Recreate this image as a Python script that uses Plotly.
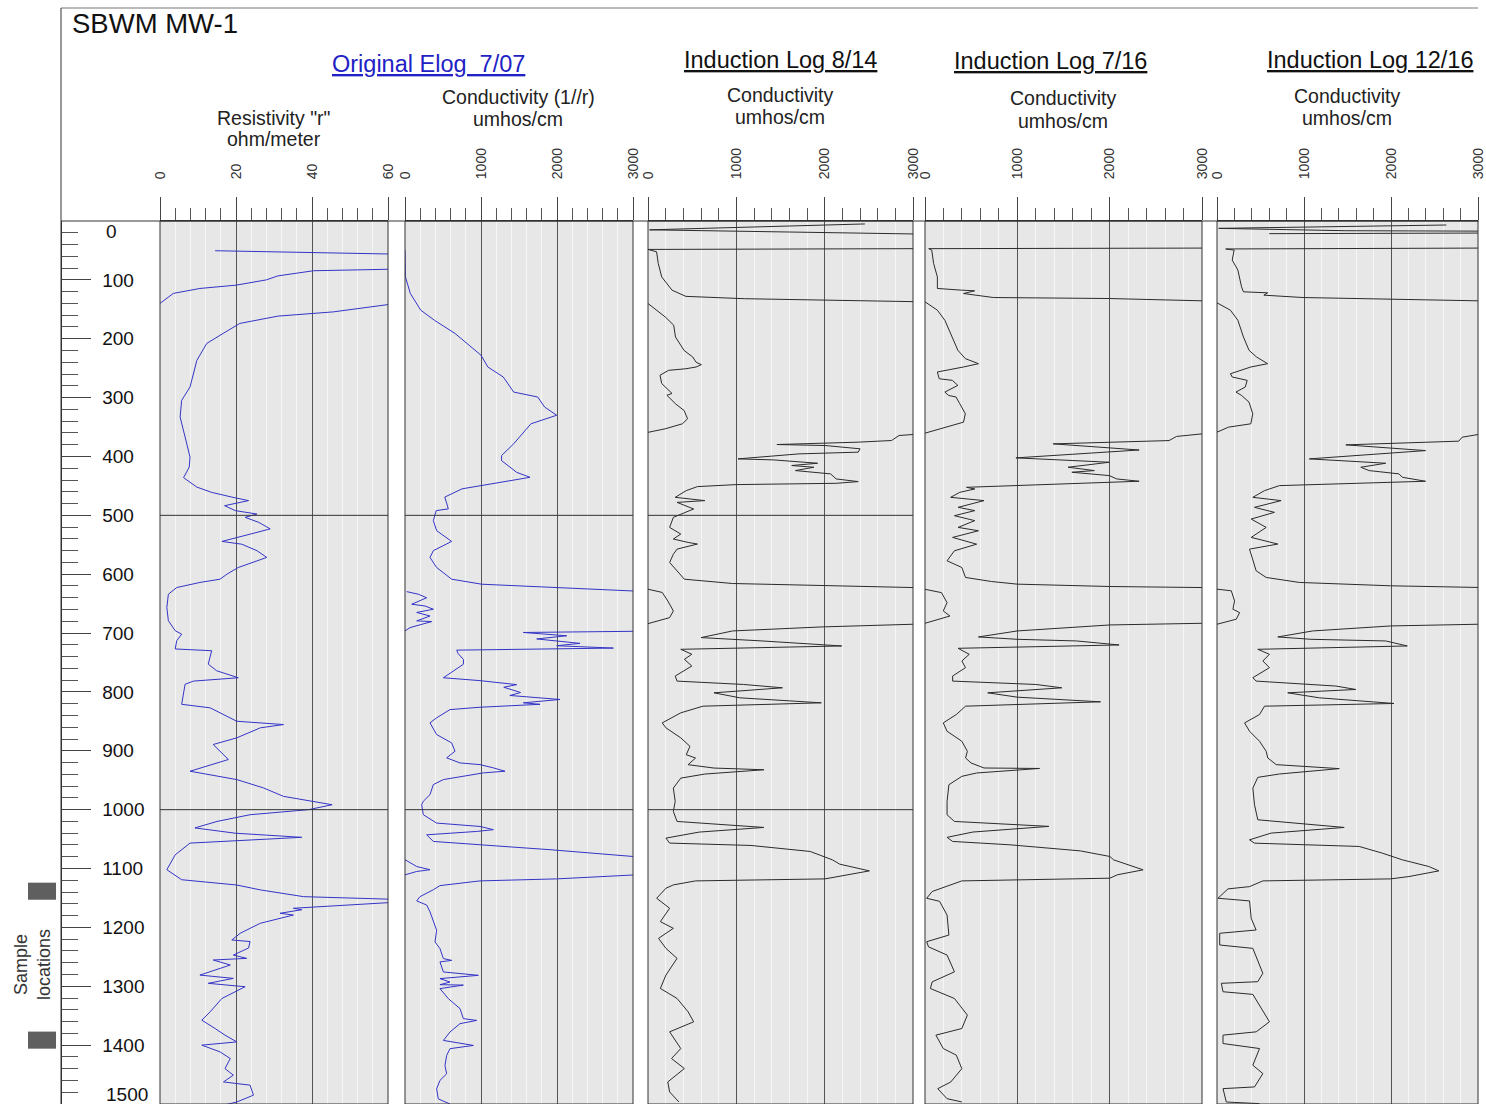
import plotly.graph_objects as go

W, H = 1486, 1104

# ---------------------------------------------------------------------------
# Log curves, traced top to bottom.  Depth in feet, None = trace left the scale
# ---------------------------------------------------------------------------

# Original E-log 7/07: resistivity (ohm-m)
res_depth = [50.5, 56, None,
             82, 84.5, 93.3, 100, 109, 114.6, 123, 140, None,
             142, 154.4, 161.6, 174, 191, 208, 236.7, 282, 304.6, 333,
             367, 401, 418, 436, 452, 461, 469, 475, 483.6, 492,
             497.8, 503.4, 512, 523, 532, 537.5, 544.3, 549, 560, 571.5,
             588.6, 600, 608.5, 614, 622.7, 634, 656.6, 679, 696, 701.8,
             713, 727, 730, 752.8, 764, 775.9, 781.6, 787, 821, 827,
             841, 849.8, 855.4, 861, 878, 889.3, 914.8, 934.7, 948.9, 963,
             977.4, 991.6, 1000, 1008.6, 1020, 1031, 1040, 1047, 1056.8, 1076.7,
             1102, 1119, 1128, 1136.3, 1147.8, 1152, None,
             1158, 1167.5, 1170, 1176, 1179, 1193, 1201.6, 1210, 1221.4, 1224,
             1235, 1247, 1252.6, 1255.4, 1263.9, 1281, 1286.6, 1295, 1300.8, 1312,
             1320.7, 1343.4, 1357.6, 1371.8, 1383, 1394.5, 1400, 1411.5, 1422.8, 1439.9,
             1451, 1462.5, 1468, 1485, 1496.6, 1502]
res_ohm = [14.5, 60, None,
           60, 40.4, 31, 28, 20, 10.5, 3.5, 0, None,
           60, 45.6, 31, 21, 16.6, 12.3, 9.7, 7.9, 5.7, 5.3,
           6.6, 7.9, 7.7, 6.2, 9.7, 13.6, 18.9, 23.3, 17, 19.8,
           25.5, 22.4, 26, 29, 23.7, 20.6, 16.3, 21.5, 25.5, 28.1,
           20.6, 17.6, 15.8, 10.5, 4.4, 2.2, 1.8, 2.2, 4, 5.7,
           4.4, 4, 13.6, 12.7, 14.9, 20.6, 8.8, 6.6, 5.7, 13.2,
           17.6, 20.2, 32.5, 26.4, 20.2, 14, 18, 7.9, 20.2, 27.2,
           32.5, 45.3, 39.1, 23.7, 15, 9.2, 19.8, 37.3, 7.9, 4,
           1.8, 5.7, 20.2, 26.4, 37.8, 60, None,
           60, 35.1, 37.3, 31.6, 35.1, 26.4, 23.7, 21.1, 18.9, 23.7,
           23.3, 19.3, 22.8, 14, 18.5, 10.5, 19.3, 12.7, 22.4, 18.9,
           16.3, 13.2, 11, 14.5, 17.1, 20.2, 11, 15.8, 18.5, 17.1,
           19.3, 16.7, 23.7, 24.6, 20.2, 16.7]

# Original E-log 7/07: conductivity 1/r (umhos/cm)
elog_depth = [49.4, 94.8, 123, 151.5, 168.6, 191, 228, 248, 265, 290.6,
              299, 316, 330, 336, 344.5, 378.5, 398.4, 407, 427, 435.4,
              449.5, 455, 469, 483, 489, 492, 509, 526, 544.3, 560,
              571.5, 588.6, 608.5, 617, 622.7, 628.5, None,
              629.6, 634, 640, 651, 654, 659.5, 665, 671, 679.3, 680.5, 690.7, 696.4, None,
              697, 699, 704.6, 710, 717.5, 721.5, 725.5, 729, 735, 745,
              753, 775.9, 780.8, 787.6, 792, 796, 801, 806, 812.8, 818.5,
              821, 826, 830, 844, 852.5, 872.4, 886.6, 900.7, 912, 920.6,
              923.5, 929, 934.7, 937.5, 948.9, 957.4, 974.4, 985.7, 991.5, 1008.6,
              1022.8, 1028.5, 1034, 1037, 1042.7, 1054, 1059.7, 1068, 1079.5, None,
              1085, 1096.6, 1102, 1105, 1110.7, None,
              1111, 1117.6, 1121, 1129, 1136, 1147.8, 1155, 1162, 1173.6, 1190.6,
              1204.8, 1224.7, 1236, 1253, 1256, 1258.6, 1275.7, 1281.4, 1287, 1292.8,
              1297.3, 1298, 1304, 1321, 1338, 1355, 1358, 1363.5, 1377.7, 1392,
              1400.5, 1406, 1417.5, 1434.5, 1448.7, 1460, 1474.3, 1491.3, 1500]
elog_cond = [0, 5, 70, 207, 387, 658, 1000, 1090, 1293, 1430,
             1746, 1837, 1996, 1861, 1657, 1430, 1271, 1270, 1470, 1645,
             1021, 750, 524, 560, 570, 410, 373, 416, 614, 373,
             329, 416, 614, 1009, 1996, 3000, None,
             22, 175, 285, 88, 263, 373, 154, 329, 154, 351, 66, 0, None,
             3000, 1557, 2128, 1733, 2303, 1996, 2742, 680, 700, 770,
             768, 505, 987, 1470, 1300, 1404, 1520, 1380, 2040, 1557,
             1777, 987, 592, 416, 329, 416, 614, 658, 548, 724,
             987, 1163, 1316, 1031, 505, 373, 329, 241, 219, 241,
             416, 987, 1163, 943, 285, 373, 1031, 1908, 3000, None,
             0, 154, 329, 154, 0, None,
             3000, 1996, 987, 460, 373, 197, 154, 285, 329, 373,
             416, 395, 460, 505, 614, 460, 505, 965, 460, 592,
             460, 768, 460, 570, 724, 768, 943, 724, 592, 505,
             900, 592, 548, 526, 548, 460, 416, 438, 592]

# Induction log 8/14 (umhos/cm)
ind_0814_depth = [5, 15, 22, None,
                  47, 48.3, 52.3, 72, 95, 117.5, 128, 132, 137, None,
                  140.2, 151.5, 163, 177, 197, 220, 231, 240, 244, 248,
                  251, 253.7, 262, 276, 293, 296, 310.5, 322, 336, 344.5,
                  353, 359, None,
                  362.7, 364.4, 372.9, 375.7, 379.7, 381.4, 387, 392.7, 395.6, 404.1,
                  405.8, 411.5, 415.4, 418.3, 424, 426.8, 429.6, 438.2, 442.7, 445.6,
                  447.8, 451.2, 458, 469.4, 475, 478, 489.2, 503.4, 520.5, 531.8,
                  540.3, 546, 548.8, 557.4, 566, 580, 594.3, 608.5, 615.8, 619.8,
                  622.7, None,
                  625.5, 631, 645.4, 662.4, 673.8, 684, None,
                  685, 689.6, 696.4, 707.7, 713.4, 720.2, 721.9, 727.6, 736, 744.6,
                  756, 773, 781.6, 787.3, 793, 801.5, 810, 818.5, 824.2, 835.5,
                  852.6, 861, 878, 892.4, 906.6, 912.3, 923.6, 929.3, 932.2, 939.5,
                  946.4, 963.4, 986, 1003, 1020, 1030.2, 1038.1, 1048.3, 1056.8, 1060.8,
                  1071, 1085.2, 1092.6, 1104, 1113.6, 1117.6, 1121, 1127.8, 1133.5, 1150.5,
                  1167.5, 1190.2, 1201.6, 1218.6, 1235.6, 1252.6, 1281, 1303.7, 1320.7, 1343.4,
                  1360.4, 1377.4, 1405.8, 1422.8, 1439.8, 1462.5, 1479.5, 1496.5]
ind_0814_cond = [2455, 18, 3000, None,
                 3000, 0, 97, 116, 155, 272, 428, 1091, 3000, None,
                 0, 97, 195, 291, 311, 409, 506, 545, 604, 545,
                 428, 233, 136, 155, 272, 214, 311, 409, 448, 389,
                 195, 0, None,
                 3000, 2842, 2758, 2380, 1459, 2004, 2401, 2380, 1710, 1019,
                 1417, 1920, 1627, 1878, 1669, 1920, 2067, 2130, 2380, 2130,
                 999, 559, 433, 308, 643, 329, 517, 287, 245, 371,
                 287, 454, 559, 329, 287, 245, 329, 412, 957, 1962,
                 3000, None,
                 0, 161, 224, 287, 245, 0, None,
                 3000, 1962, 957, 601, 1292, 2004, 2192, 371, 496, 412,
                 496, 308, 329, 1082, 1522, 747, 1040, 1962, 622, 371,
                 161, 203, 371, 475, 433, 538, 454, 747, 1312, 643,
                 371, 287, 308, 287, 329, 1312, 580, 203, 245, 1166,
                 1836, 2087, 2171, 2506, 2171, 2004, 538, 287, 203, 98,
                 245, 140, 287, 119, 203, 329, 203, 140, 329, 454,
                 517, 245, 371, 266, 412, 224, 245, 350]

# Induction log 7/16 (umhos/cm)
ind_0716_depth = [46, 47, 49.4, 72, 95, 114.6, 117.5, 118.6, 123.2, 130, 131.7, 135.6, None,
                  137.3, 151.5, 168.6, 197, 219.6, 233.8, 242.4, 248, 256.5, 268,
                  270.7, 279.2, 290.6, 296.3, 299, 310.5, 327.5, 341.7, 350.2, 360.4, None,
                  361.6, 366, 373, 378.6, 389, 402.4, 409.8, 418.3, 424, 426.8,
                  432.5, 438.2, 442.1, 449.5, 452.4, 455.2, 460.9, 469.4, 475, 486.4,
                  492, 500.6, 509, 520.5, 526.2, 537.5, 543.2, 549, 560.2, 577.2,
                  588.6, 605.5, 612.4, 616.9, 620.9, 622.7, None,
                  625.6, 631.3, 648.3, 662.4, 671, 683.4, None,
                  683.4, 686.2, 696.4, 706.6, 710.6, 713.4, 720.2, 725.9, 736.1, 747.4,
                  758.8, 773, 781.6, 787.3, 793, 801.5, 808.9, 816.8, 824.2, 838.4,
                  852.6, 866.8, 883.8, 900.8, 912.2, 920.7, 929.2, 930, 937.7, 943.4,
                  957.6, 986, 1008.7, 1020, 1028.4, 1038, 1047, 1054, 1059.7, 1070,
                  1079.5, 1085.2, 1102.2, 1110.7, 1116.4, 1121, 1139, 1150.5, 1155.7, 1179,
                  1213, 1224.3, 1233, 1247, 1275.5, 1292.5, 1303.8, 1320.8, 1349, 1371.8,
                  1383, 1405.8, 1417, 1440, 1462.6, 1474, 1491, 1496.5]
ind_0716_cond = [3000, 40, 73, 93, 134, 134, 397, 538, 417, 741, 1996, 3000, None,
                 0, 134, 215, 296, 356, 437, 579, 417, 134, 154,
                 296, 356, 215, 255, 336, 377, 437, 417, 215, 0, None,
                 3000, 2724, 2643, 1388, 2319, 985, 1996, 1550, 1834, 1591,
                 1996, 2077, 2319, 985, 450, 539, 377, 278, 639, 359,
                 539, 319, 539, 359, 579, 299, 439, 559, 319, 239,
                 399, 439, 719, 999, 2002, 3000, None,
                 0, 178, 239, 198, 270, 0, None,
                 3000, 2002, 999, 579, 999, 1641, 2102, 359, 479, 399,
                 439, 299, 299, 1200, 1481, 679, 999, 1901, 439, 339,
                 198, 239, 399, 459, 439, 499, 639, 1241, 559, 399,
                 259, 239, 239, 319, 1341, 519, 239, 299, 920, 1681,
                 2002, 2042, 2362, 2082, 2002, 399, 78, 18, 158, 239,
                 259, 18, 38, 239, 319, 78, 58, 319, 459, 399,
                 118, 198, 339, 399, 279, 138, 239, 399]

# Induction log 12/16 (umhos/cm)
ind_1216_depth = [6.8, 12.5, 16.5, 17.2, None, 20.5, 21.5, None,
                  46, 47.5, 49.4, 66.4, 83.4, 111.8, 120.3, 122, 126, 130, 135.6, None,
                  139, 151.5, 168.6, 197, 219.6, 231, 242.4, 248, 259.5, 265,
                  270.7, 282, 290.6, 296.3, 307.7, 327.5, 344.5, 350.2, 358.7, None,
                  362.7, 367.3, 374, 380.3, 390, 404.1, 411.5, 418.3, 424, 429.6,
                  435.3, 442.1, 449.5, 458, 469.4, 475, 486.4, 494.9, 506.3, 520.5,
                  537.5, 548.8, 557.4, 577.2, 594.2, 605.5, 614, 619.7, 622.5, None,
                  625.4, 628.2, 645.3, 659.5, 665.2, 676.5, 685, None,
                  685, 687.9, 696.4, 706.6, 710.6, 713.4, 721.9, 727.6, 736.1, 747.4,
                  758.8, 775.8, 781.6, 790, 795.8, 801.5, 810, 819.6, 824.2, 838.4,
                  852.6, 866.8, 883.8, 900.8, 912.2, 923.5, 930.3, 939.4, 945.1, 963.4,
                  991.7, 1017.2, 1030.2, 1039.8, 1051.2, 1056.9, 1062.5, 1073.9, 1085.2, 1096.6,
                  1104, 1113.6, 1117.6, 1121, 1130.7, 1134.6, 1150.5, 1155, 1184.6, 1204.4,
                  1210, 1229.9, 1235.6, 1278, 1292.2, 1295, 1309.3, 1313.8, 1360.3, 1377.4,
                  1383, 1397.3, 1405.8, 1434.1, 1448.3, 1471, 1473.9, 1496.6, 1499.4]
ind_1216_cond = [2636, 20, 1480, 3000, None, 3000, 600, None,
                 3000, 100, 197, 175, 240, 282, 304, 582, 539, 988, 3000, None,
                 0, 154, 240, 304, 368, 454, 582, 389, 154, 175,
                 347, 325, 218, 282, 368, 411, 389, 133, 0, None,
                 3000, 2817, 2779, 1481, 2397, 1061, 1939, 1653, 1748, 2092,
                 2130, 2397, 718, 546, 412, 737, 431, 660, 393, 565,
                 393, 699, 374, 412, 450, 565, 947, 1996, 3000, None,
                 0, 164, 202, 183, 260, 221, 0, None,
                 3000, 1996, 1099, 699, 1080, 1939, 2187, 469, 603, 527,
                 603, 412, 450, 1366, 1595, 813, 1176, 2034, 546, 489,
                 317, 374, 489, 565, 584, 680, 1405, 718, 469, 412,
                 431, 469, 1462, 622, 374, 431, 1634, 1901, 2130, 2435,
                 2550, 2206, 1996, 527, 374, 126, 11, 374, 393, 450,
                 31, 31, 412, 527, 469, 50, 69, 412, 603, 450,
                 69, 69, 489, 412, 527, 431, 69, 107, 489]

# Sampled intervals (top, bottom depth)
sample_intervals = [(1124, 1153), (1377, 1406)]

# Reference depths ruled across the E-log and first induction tracks
ruled_depths = [500, 1000]

depth_ticks = list(range(100, 1500, 100))
res_ticks = [0, 20, 40, 60]
cond_ticks = [0, 1000, 2000, 3000]

# ---------------------------------------------------------------------------
FONT = "Liberation Sans, Arial, sans-serif"
BG = "#e7e7e7"
MINOR_GRID = "#f6f6f6"
MAJOR_GRID = "#555555"
BLUE = "#3434c8"
DARK = "#2b2b2b"

TRACK_TOP = 221  # px

# the page lays the figure out over a 1470 px wide strip starting 8 px in
PAGE_X0, PAGE_W = 8.0, 1470.0


def fx(p):
    return (p - PAGE_X0) / PAGE_W


def fy(p):
    return 1 - p / H


tracks = [
    dict(px=(160, 388), rng=[0, 60], ticks=res_ticks, minor=4,
         x=res_ohm, y=res_depth, color=BLUE),
    dict(px=(405, 633), rng=[0, 3000], ticks=cond_ticks, minor=200,
         x=elog_cond, y=elog_depth, color=BLUE),
    dict(px=(648, 913), rng=[0, 3000], ticks=cond_ticks, minor=200,
         x=ind_0814_cond, y=ind_0814_depth, color=DARK),
    dict(px=(925, 1202), rng=[0, 3000], ticks=cond_ticks, minor=200,
         x=ind_0716_cond, y=ind_0716_depth, color=DARK),
    dict(px=(1217, 1479), rng=[0, 3000], ticks=cond_ticks, minor=200,
         x=ind_1216_cond, y=ind_1216_depth, color=DARK),
]

fig = go.Figure()
layout = {}
shapes = []

for i, t in enumerate(tracks, start=1):
    xname = "x" if i == 1 else f"x{i}"
    lname = "xaxis" if i == 1 else f"xaxis{i}"
    fig.add_trace(go.Scatter(
        x=t["x"], y=t["y"], mode="lines", xaxis=xname, yaxis="y",
        line=dict(color=t["color"], width=1), connectgaps=False,
        hoverinfo="skip", showlegend=False))
    layout[lname] = dict(
        domain=[fx(t["px"][0]), min(1.0, fx(t["px"][1]))], range=t["rng"],
        side="top", anchor="y", showline=True, linecolor="#333", linewidth=1,
        tickmode="array", tickvals=t["ticks"], ticktext=[str(v) for v in t["ticks"]],
        ticks="outside", ticklen=23, tickcolor="#444", tickwidth=1,
        tickangle=-90, tickfont=dict(family=FONT, size=14, color="#333"),
        ticklabelstandoff=15,
        showgrid=True, gridcolor=MAJOR_GRID, gridwidth=1, zeroline=False,
        minor=dict(tickmode="linear", tick0=0, dtick=t["minor"], ticks="outside",
                   ticklen=12, tickcolor="#555", showgrid=True,
                   gridcolor=MINOR_GRID, gridwidth=1),
        fixedrange=True,
    )
    # track frame
    shapes.append(dict(type="rect", xref=f"{xname} domain", yref="y domain",
                       x0=0, x1=1, y0=0, y1=1, line=dict(color="#333", width=1),
                       layer="above"))
    if i <= 3:
        for d in ruled_depths:
            shapes.append(dict(type="line", xref=f"{xname} domain", yref="y",
                               x0=0, x1=1, y0=d, y1=d,
                               line=dict(color="#333", width=1), layer="above"))

layout["yaxis"] = dict(
    domain=[0, fy(TRACK_TOP)], range=[1500, 0], anchor="free", position=fx(61),
    side="left", showline=True, linecolor="#333", linewidth=1,
    tickmode="array", tickvals=depth_ticks,
    ticks="inside", ticklen=29, tickcolor="#444", tickwidth=1,
    ticklabelposition="inside", ticklabelstandoff=12,
    tickfont=dict(family=FONT, size=19, color="#111"),
    minor=dict(tickmode="linear", tick0=0, dtick=20, ticks="inside",
               ticklen=16, tickcolor="#555", showgrid=False),
    showgrid=False, zeroline=False, fixedrange=True,
)

# sample location markers
for top, bot in sample_intervals:
    shapes.append(dict(type="rect", xref="paper", yref="y",
                       x0=fx(28), x1=fx(56), y0=top, y1=bot,
                       fillcolor="#5f5f5f", line=dict(width=0), layer="above"))

# header frame
shapes += [
    dict(type="line", xref="paper", yref="paper", x0=fx(61), x1=1, y0=fy(8), y1=fy(8),
         line=dict(color="#777", width=1)),
    dict(type="line", xref="paper", yref="paper", x0=fx(61), x1=fx(61), y0=fy(8), y1=0,
         line=dict(color="#333", width=1)),
    dict(type="line", xref="paper", yref="paper", x0=fx(61), x1=fx(1479),
         y0=fy(TRACK_TOP), y1=fy(TRACK_TOP), line=dict(color="#333", width=1)),
]


def label(text, x, y, size, color="#111", anchor="center", angle=0):
    return dict(text=text, xref="paper", yref="paper", x=fx(x), y=fy(y),
                xanchor=anchor, yanchor="middle", showarrow=False, textangle=angle,
                font=dict(family=FONT, size=size, color=color))


SUB = 19.5
annotations = [
    label("SBWM MW-1", 70, 23, 27.5, anchor="left"),
    label("<u>Original Elog\u00a0 7/07</u>", 428, 64, 23.5, color="#2222c4"),
    label("<u>Induction Log 8/14</u>", 780, 60, 23.5),
    label("<u>Induction Log 7/16</u>", 1050, 61, 23.5),
    label("<u>Induction Log 12/16</u>", 1370, 60, 23.5),
    # track units
    label('Resistivity "r"', 274, 118, SUB, color="#222"),
    label("ohm/meter", 274, 139, SUB, color="#222"),
    label("Conductivity (1//r)", 518, 97, SUB, color="#222"),
    label("umhos/cm", 518, 119, SUB, color="#222"),
    label("Conductivity", 780, 95, SUB, color="#222"),
    label("umhos/cm", 780, 117, SUB, color="#222"),
    label("Conductivity", 1063, 98, SUB, color="#222"),
    label("umhos/cm", 1063, 121, SUB, color="#222"),
    label("Conductivity", 1347, 96, SUB, color="#222"),
    label("umhos/cm", 1347, 118, SUB, color="#222"),
    label("Sample<br>locations", 32, 965, 18, color="#333", angle=-90),
    # end labels of the depth scale sit just inside the track
    dict(text="0", xref="paper", yref="y", x=fx(104), y=0, yshift=-11,
         xanchor="left", yanchor="middle", showarrow=False,
         font=dict(family=FONT, size=19, color="#111")),
    dict(text="1500", xref="paper", yref="y", x=fx(104), y=1500, yshift=10,
         xanchor="left", yanchor="middle", showarrow=False,
         font=dict(family=FONT, size=19, color="#111")),
]

fig.update_layout(
    width=W, height=H, autosize=False,
    margin=dict(l=0, r=0, t=0, b=0),
    paper_bgcolor="white", plot_bgcolor=BG,
    font=dict(family=FONT, color="#111"),
    shapes=shapes, annotations=annotations, showlegend=False,
    **layout,
)

fig.write_html("out.html")
